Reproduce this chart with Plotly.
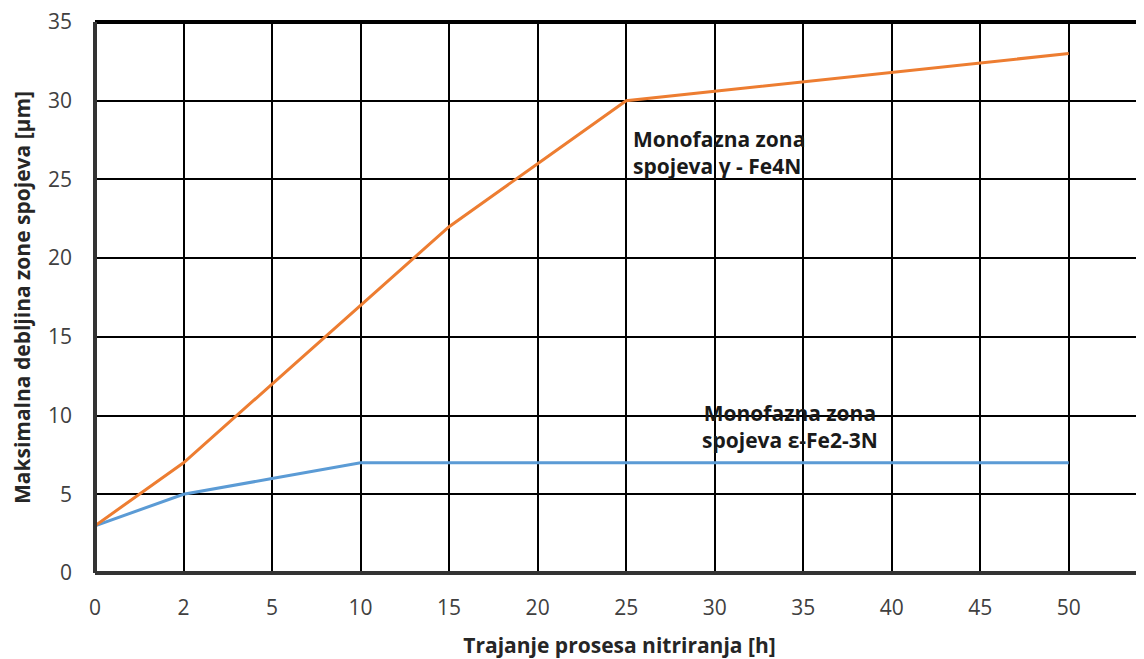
import plotly.graph_objects as go

categories = ["0", "2", "5", "10", "15", "20", "25", "30", "35", "40", "45", "50"]
gamma_fe4n = [3, 7, 12, 17, 22, 26, 30, 30.6, 31.2, 31.8, 32.4, 33]
eps_fe23n = [3, 5, 6, 7, 7, 7, 7, 7, 7, 7, 7, 7]
y_ticks = [0, 5, 10, 15, 20, 25, 30, 35]

idx = list(range(len(categories)))

fig = go.Figure()
fig.add_trace(go.Scatter(x=idx, y=eps_fe23n, mode="lines",
                         line=dict(color="#5B9BD5", width=3), showlegend=False))
fig.add_trace(go.Scatter(x=idx, y=gamma_fe4n, mode="lines",
                         line=dict(color="#ED7D31", width=3), showlegend=False))

font_family = "Open Sans, Noto Sans, sans-serif"

fig.update_layout(
    width=1136, height=651,
    margin=dict(l=87, r=0, t=14, b=86),
    paper_bgcolor="white", plot_bgcolor="white",
    font=dict(family=font_family, color="#404040", size=21),
    xaxis=dict(
        range=[0, 11.85], tickmode="array", tickvals=idx, ticktext=categories,
        showgrid=True, gridcolor="black", gridwidth=1.5, zeroline=False,
        showline=False, ticks="", tickfont=dict(size=21, color="#404040"),
        ticklabelstandoff=20, automargin=False, ticklabeloverflow="allow",
        title=dict(text="<b>Trajanje prosesa nitriranja [h]</b>",
                   font=dict(size=21, color="#262626"), standoff=20),
    ),
    yaxis=dict(
        range=[0, 35], tickmode="array", tickvals=y_ticks,
        showgrid=True, gridcolor="black", gridwidth=1.5, zeroline=False,
        showline=False, ticks="", ticklabelstandoff=22, automargin=False,
        ticklabeloverflow="allow",
        tickfont=dict(size=21, color="#404040"),
        title=dict(text="<b>Maksimalna debljina zone spojeva [μm]</b>",
                   font=dict(size=21, color="#262626"), standoff=14),
    ),
    shapes=[
        dict(type="line", xref="paper", yref="paper", x0=0, x1=1, y0=1, y1=1,
             line=dict(color="black", width=4)),
        dict(type="line", xref="paper", yref="paper", x0=0, x1=1, y0=0, y1=0,
             line=dict(color="#333333", width=4)),
        dict(type="line", xref="paper", yref="paper", x0=0, x1=0, y0=0, y1=1,
             line=dict(color="#333333", width=4)),
    ],
    annotations=[
        dict(x=6.05, y=26.7, xref="x", yref="y", xanchor="left", yanchor="middle",
             text="<b>Monofazna zona<br>spojeva γ - Fe4N</b>", showarrow=False, align="left",
             font=dict(size=21, color="#1a1a1a", family=font_family)),
        dict(x=7.85, y=9.3, xref="x", yref="y", xanchor="center", yanchor="middle",
             text="<b>Monofazna zona<br>spojeva ε-Fe2-3N</b>", showarrow=False, align="center",
             font=dict(size=21, color="#1a1a1a", family=font_family)),
    ],
)

fig.write_html("out.html")
